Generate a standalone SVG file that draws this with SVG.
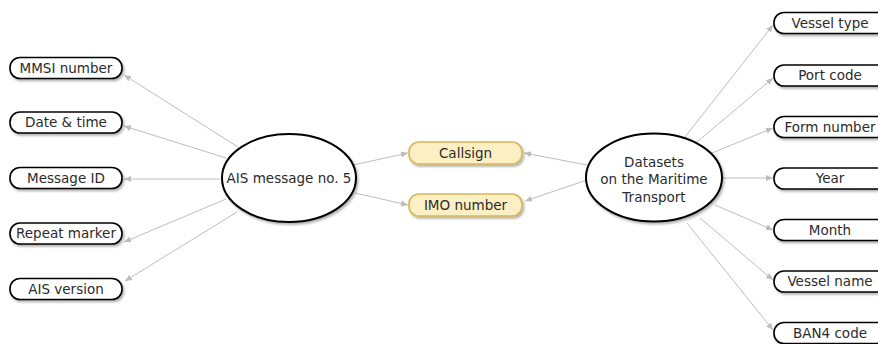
<svg xmlns="http://www.w3.org/2000/svg" width="878" height="344" viewBox="0 0 878 344">
<style>
text{font-family:"DejaVu Sans","Liberation Sans",sans-serif;font-size:13.5px;fill:#2b2b2b;text-anchor:middle}
.box{fill:#fff;stroke:#000;stroke-width:1.6}
.yel{fill:#fcefc4;stroke:#d6b655;stroke-width:1.6}
.ell{fill:#fff;stroke:#000;stroke-width:2}
.sh{filter:url(#ds)}
#edges line{stroke:#bdbdbd;stroke-width:1;marker-end:url(#ar)}
</style>
<defs>
<filter id="ds" x="-20%" y="-20%" width="140%" height="150%">
<feDropShadow dx="1.5" dy="2" stdDeviation="1" flood-color="#000" flood-opacity="0.3"/>
</filter>
<marker id="ar" markerWidth="8" markerHeight="8" refX="7" refY="4" orient="auto" markerUnits="userSpaceOnUse">
<path d="M0,1 L7,4 L0,7 Z" fill="#bdbdbd"/>
</marker>
</defs>
<g id="edges">
<line x1="238" y1="147" x2="124" y2="75"/>
<line x1="226" y1="158" x2="124" y2="126"/>
<line x1="220" y1="179" x2="124" y2="179"/>
<line x1="226" y1="199" x2="124" y2="242"/>
<line x1="237" y1="212" x2="125" y2="281"/>
<line x1="353" y1="165" x2="408" y2="153"/>
<line x1="355" y1="193" x2="408" y2="205"/>
<line x1="587" y1="165" x2="524" y2="153"/>
<line x1="587" y1="180" x2="525" y2="201"/>
<line x1="685" y1="137" x2="773" y2="25"/>
<line x1="697" y1="142" x2="773" y2="78"/>
<line x1="712" y1="153" x2="773" y2="128"/>
<line x1="722" y1="178" x2="773" y2="178"/>
<line x1="715" y1="205" x2="773" y2="230"/>
<line x1="700" y1="218" x2="773" y2="280"/>
<line x1="687" y1="223" x2="773" y2="330"/>
</g>
<g id="n-mmsi"><rect class="box sh" x="10" y="57.5" width="112" height="21" rx="10"/><text x="66" y="72.8">MMSI number</text></g>
<g id="n-date"><rect class="box sh" x="10" y="112" width="112" height="21" rx="10"/><text x="66" y="127.3">Date &amp; time</text></g>
<g id="n-msgid"><rect class="box sh" x="10" y="167.5" width="112" height="21" rx="10"/><text x="66" y="182.8">Message ID</text></g>
<g id="n-repeat"><rect class="box sh" x="10" y="223" width="112" height="21" rx="10"/><text x="66" y="238.3">Repeat marker</text></g>
<g id="n-aisver"><rect class="box sh" x="10" y="278.5" width="112" height="21" rx="10"/><text x="66" y="293.8">AIS version</text></g>
<g id="n-ais"><ellipse class="ell sh" cx="289" cy="178" rx="67" ry="44"/><text x="289" y="182.5">AIS message no. 5</text></g>
<g id="n-callsign"><rect class="yel sh" x="409" y="142" width="113" height="22" rx="10"/><text x="465.5" y="157.8">Callsign</text></g>
<g id="n-imo"><rect class="yel sh" x="409" y="194" width="113" height="22" rx="10"/><text x="465.5" y="209.8">IMO number</text></g>
<g id="n-datasets"><ellipse class="ell sh" cx="654" cy="177.5" rx="68" ry="44"/><text x="654" y="166.5">Datasets</text><text x="654" y="184.3">on the Maritime</text><text x="654" y="201.7">Transport</text></g>
<g id="n-vtype"><rect class="box sh" x="774" y="12.5" width="114" height="21" rx="10"/><text x="830" y="27.8">Vessel type</text></g>
<g id="n-port"><rect class="box sh" x="774" y="65" width="114" height="21" rx="10"/><text x="830" y="80.3">Port code</text></g>
<g id="n-form"><rect class="box sh" x="774" y="116.5" width="114" height="21" rx="10"/><text x="830" y="131.8">Form number</text></g>
<g id="n-year"><rect class="box sh" x="774" y="168" width="114" height="21" rx="10"/><text x="830" y="183.3">Year</text></g>
<g id="n-month"><rect class="box sh" x="774" y="219.5" width="114" height="21" rx="10"/><text x="830" y="234.8">Month</text></g>
<g id="n-vname"><rect class="box sh" x="774" y="271" width="114" height="21" rx="10"/><text x="830" y="286.3">Vessel name</text></g>
<g id="n-ban4"><rect class="box sh" x="774" y="322.5" width="114" height="21" rx="10"/><text x="830" y="337.8">BAN4 code</text></g>
</svg>
